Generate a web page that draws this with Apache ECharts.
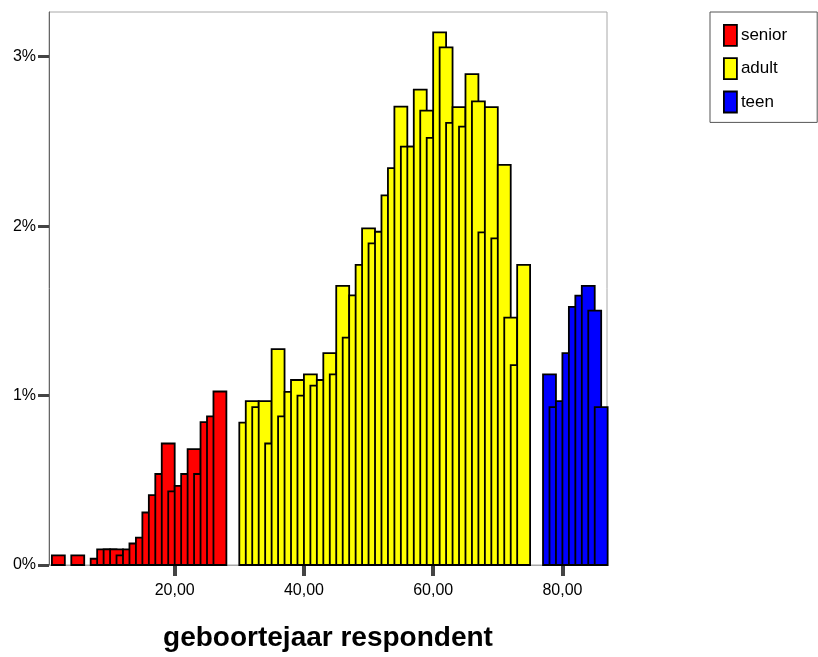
<!DOCTYPE html>
<html>
<head>
<meta charset="utf-8">
<script src="https://cdn.jsdelivr.net/npm/echarts@6/dist/echarts.min.js"></script>
<style>
html,body{margin:0;padding:0;background:#fff;}
#chart{width:818px;height:657px;}
</style>
</head>
<body>
<div id="chart"></div>
<script>
// birth year values (bin centres) and percentage of respondents per value
const seniorX = [2, 5, 8, 9, 10, 11, 12, 13, 14, 15, 16, 17, 18, 19, 20, 21, 22, 23, 24, 25, 26, 27];
const seniorY = [0.057, 0.057, 0.037, 0.092, 0.092, 0.092, 0.057, 0.092, 0.127, 0.162, 0.31, 0.412, 0.537, 0.717, 0.434, 0.467, 0.537, 0.684, 0.537, 0.843, 0.877, 1.024];

const adultX = [31, 32, 33, 34, 35, 36, 37, 38, 39, 40, 41, 42, 43, 44, 45, 46, 47, 48, 49, 50, 51, 52,
                53, 54, 55, 56, 57, 58, 59, 60, 61, 62, 63, 64, 65, 66, 67, 68, 69, 70, 71, 72, 73, 74];
const adultY = [0.84, 0.967, 0.932, 0.967, 0.717, 1.274, 0.877, 1.022, 1.092, 1.0, 1.125, 1.059, 1.092, 1.25, 1.125, 1.648, 1.342, 1.592, 1.772, 1.987, 1.898, 1.967,
                2.182, 2.342, 2.705, 2.469, 2.469, 2.806, 2.682, 2.521, 3.144, 3.055, 2.61, 2.703, 2.588, 2.897, 2.737, 1.963, 2.703, 1.928, 2.362, 1.46, 1.18, 1.771];

const teenX = [78, 79, 80, 81, 82, 83, 84, 85, 86];
const teenY = [1.125, 0.932, 0.967, 1.25, 1.524, 1.59, 1.648, 1.502, 0.932];

const xTickValues = [20, 40, 60, 80];
const yTickValues = [0, 1, 2, 3];
const seriesNames = ['senior', 'adult', 'teen'];
const seriesColors = ['#ff0000', '#ffff00', '#0000ff'];

const FONT = '"Liberation Sans", Arial, sans-serif';
const HALF_BIN = 1; // each bar spans value-1 .. value+1
const OUTLINE = 1.8;

function pairs(xs, ys) { return xs.map((x, i) => [x, ys[i]]); }

function makeSeries(name, color, data) {
  return {
    type: 'custom',
    name: name,
    data: data,
    itemStyle: { color: color, borderColor: '#000', borderWidth: OUTLINE },
    renderItem: function (params, api) {
      const x = api.value(0), y = api.value(1);
      const p0 = api.coord([x - HALF_BIN, y]);
      const p1 = api.coord([x + HALF_BIN, 0]);
      return {
        type: 'rect',
        shape: { x: p0[0], y: p0[1], width: p1[0] - p0[0], height: p1[1] - p0[1] },
        style: { fill: color, stroke: '#000', lineWidth: OUTLINE }
      };
    },
    encode: { x: 0, y: 1 },
    animation: false
  };
}

const chart = echarts.init(document.getElementById('chart'), null, { renderer: 'canvas' });
chart.setOption({
  animation: false,
  backgroundColor: '#fff',
  textStyle: { fontFamily: FONT },
  grid: {
    left: 49, top: 12, width: 558, height: 557,
    show: true, borderColor: '#a8a8a8', borderWidth: 1, backgroundColor: '#fff'
  },
  legend: {
    orient: 'vertical',
    left: 710, top: 12,
    padding: [12, 30, 9, 13],
    itemWidth: 13, itemHeight: 21, itemGap: 10.5,
    borderColor: '#555', borderWidth: 1, backgroundColor: '#fff',
    icon: 'rect',
    textStyle: { fontSize: 17, color: '#000', fontFamily: FONT, padding: [0, 0, 0, -1] },
    data: seriesNames.map((n, i) => ({ name: n, itemStyle: { color: seriesColors[i], borderColor: '#000', borderWidth: OUTLINE } }))
  },
  xAxis: {
    type: 'value',
    min: 0.55, max: 86.9,
    name: 'geboortejaar respondent',
    nameLocation: 'middle',
    nameGap: 59,
    nameTextStyle: { fontSize: 28, fontWeight: 'bold', color: '#000', fontFamily: FONT },
    splitLine: { show: false },
    axisLine: { show: true, lineStyle: { color: '#a8a8a8', width: 1 } },
    axisTick: { show: true, length: 11, customValues: xTickValues, lineStyle: { color: '#444', width: 4 } },
    axisLabel: { show: true, customValues: xTickValues, margin: 18, fontSize: 16, color: '#000', fontFamily: FONT,
      formatter: v => v.toFixed(2).replace('.', ',') }
  },
  yAxis: {
    type: 'value',
    min: 0, max: 3.264,
    splitLine: { show: false },
    axisLine: { show: true, lineStyle: { color: '#666', width: 1 } },
    axisTick: { show: true, length: 11, customValues: yTickValues, lineStyle: { color: '#444', width: 3 } },
    axisLabel: { show: true, customValues: yTickValues, margin: 13, fontSize: 16, color: '#000', fontFamily: FONT,
      formatter: v => v + '%' }
  },
  series: [
    makeSeries(seriesNames[0], seriesColors[0], pairs(seniorX, seniorY)),
    makeSeries(seriesNames[1], seriesColors[1], pairs(adultX, adultY)),
    makeSeries(seriesNames[2], seriesColors[2], pairs(teenX, teenY))
  ]
});
</script>
</body>
</html>
